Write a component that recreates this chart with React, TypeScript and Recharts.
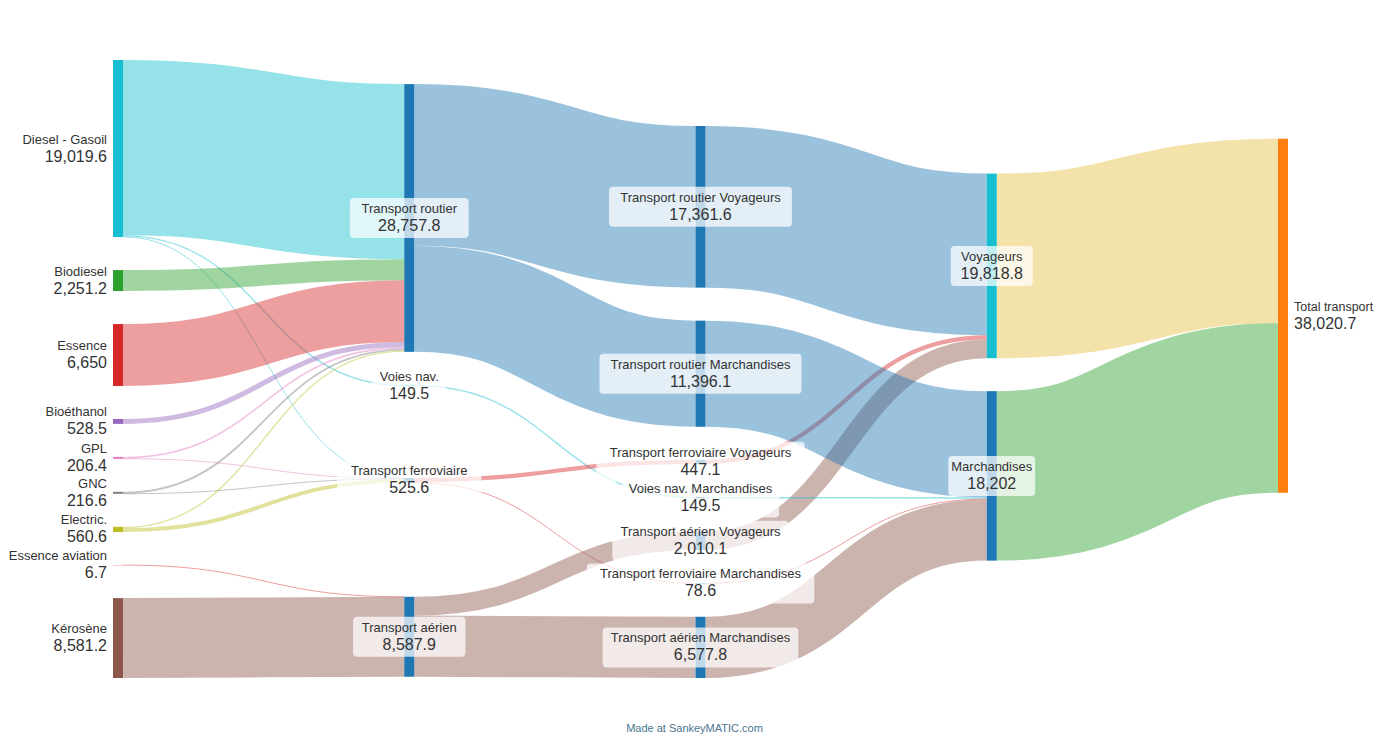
import React from 'react';
import { Sankey } from 'recharts';

// nodes, in column order (top to bottom as drawn)
const nodeNames = [
  'Diesel - Gasoil', 'Biodiesel', 'Essence', 'Bioéthanol', 'GPL', 'GNC', 'Electric.', 'Essence aviation', 'Kérosène',
  'Transport routier', 'Voies nav.', 'Transport ferroviaire', 'Transport aérien',
  'Transport routier Voyageurs', 'Transport routier Marchandises', 'Transport ferroviaire Voyageurs',
  'Voies nav. Marchandises', 'Transport aérien Voyageurs', 'Transport ferroviaire Marchandises', 'Transport aérien Marchandises',
  'Voyageurs', 'Marchandises',
  'Total transport',
];

const nodeTotals = [
  '19,019.6', '2,251.2', '6,650', '528.5', '206.4', '216.6', '560.6', '6.7', '8,581.2',
  '28,757.8', '149.5', '525.6', '8,587.9',
  '17,361.6', '11,396.1', '447.1', '149.5', '2,010.1', '78.6', '6,577.8',
  '19,818.8', '18,202',
  '38,020.7',
];

const linkSources = [0, 0, 0, 1, 2, 3, 4, 4, 5, 5, 6, 6, 7, 8, 9, 9, 10, 11, 11, 12, 12, 13, 15, 17, 14, 16, 18, 19, 20, 21];
const linkTargets = [9, 10, 11, 9, 9, 9, 9, 11, 9, 11, 9, 11, 12, 12, 13, 14, 16, 15, 18, 17, 19, 20, 20, 20, 21, 21, 21, 21, 22, 22];
const linkValues = [
  18810.1, 149.5, 60, 2251.2, 6650, 528.5, 176.4, 30, 201.6, 15, 140, 420.6, 6.7, 8581.2,
  17361.6, 11396.1, 149.5, 447.1, 78.6, 2010.1, 6577.8,
  17361.6, 447.1, 2010.1,
  11396.1, 149.5, 78.6, 6577.8,
  19818.8, 18202,
];

// colours
const nodeColors = [
  '#17becf', '#2ca02c', '#d62728', '#9467bd', '#e377c2', '#7f7f7f', '#bcbd22', '#ff9896', '#8c564b',
  '#1f77b4', '#17becf', '#1f77b4', '#1f77b4',
  '#1f77b4', '#1f77b4', '#1f77b4', '#1f77b4', '#1f77b4', '#1f77b4', '#1f77b4',
  '#17becf', '#1f77b4',
  '#ff7f0e',
];

const linkColors = [
  '#17becf', '#17becf', '#17becf', '#2ca02c', '#d62728', '#9467bd', '#e377c2', '#e377c2', '#7f7f7f', '#7f7f7f',
  '#bcbd22', '#bcbd22', '#d62728', '#8c564b',
  '#1f77b4', '#1f77b4', '#17becf', '#d62728', '#d62728', '#8c564b', '#8c564b',
  '#1f77b4', '#d62728', '#8c564b',
  '#1f77b4', '#17becf', '#d62728', '#8c564b',
  '#e5be41', '#2ca02c',
];

const data = {
  nodes: nodeNames.map((name) => ({ name })),
  links: linkSources.map((s, i) => ({ source: s, target: linkTargets[i], value: linkValues[i], idx: i })),
};

const FONT = '"Liberation Sans", Arial, sans-serif';

const LinkShape = (props: any) => {
  const { sourceX, targetX, sourceY, targetY, sourceControlX, targetControlX, linkWidth, index, payload } = props;
  const i = payload && payload.idx !== undefined ? payload.idx : index;
  return (
    <path
      d={`M${sourceX},${sourceY}C${sourceControlX},${sourceY} ${targetControlX},${targetY} ${targetX},${targetY}`}
      fill="none"
      stroke={linkColors[i] || '#999'}
      strokeWidth={Math.max(linkWidth, 1)}
      strokeOpacity={0.45}
    />
  );
};

const NodeShape = (props: any) => {
  const { x, y, width, height, payload } = props;
  const i = nodeNames.indexOf(payload.name);
  const name = nodeNames[i];
  const total = nodeTotals[i];
  const depth = payload.depth;
  const cy = y + height / 2;
  const rect = <rect x={x} y={y} width={width} height={Math.max(height, 0.5)} fill={nodeColors[i]} />;

  if (depth === 0) {
    return (
      <g>
        {rect}
        <text x={x - 6} y={cy - 5} textAnchor="end" fontSize={13} fill="#333" fontFamily={FONT}>{name}</text>
        <text x={x - 6} y={cy + 13} textAnchor="end" fontSize={16} fill="#333" fontFamily={FONT}>{total}</text>
      </g>
    );
  }
  if (depth === 4) {
    return (
      <g>
        {rect}
        <text x={x + width + 6} y={cy - 5} textAnchor="start" fontSize={12.5} fill="#333" fontFamily={FONT}>{name}</text>
        <text x={x + width + 6} y={cy + 13} textAnchor="start" fontSize={16} fill="#333" fontFamily={FONT}>{total}</text>
      </g>
    );
  }
  const cx = x + width / 2;
  const boxW = Math.max(name.length * 6.4, total.length * 9) + 10;
  return (
    <g>
      {rect}
      <rect x={cx - boxW / 2} y={cy - 20} width={boxW} height={40} rx={4} fill="#fff" fillOpacity={0.72} />
      <text x={cx} y={cy - 5} textAnchor="middle" fontSize={13} fill="#333" fontFamily={FONT}>{name}</text>
      <text x={cx} y={cy + 13} textAnchor="middle" fontSize={16} fill="#333" fontFamily={FONT}>{total}</text>
    </g>
  );
};

export default function App() {
  return (
    <div style={{ position: 'relative', width: 1373, height: 730, fontFamily: FONT }}>
      <Sankey
        width={1373}
        height={690}
        data={data}
        node={<NodeShape />}
        link={<LinkShape />}
        nodeWidth={10}
        nodePadding={33}
        iterations={1}
        sort={false}
        linkCurvature={0.5}
        margin={{ top: 52, right: 93, bottom: 20, left: 105 }}
      />
      <div
        style={{
          position: 'absolute',
          top: 714,
          left: 0,
          width: 1373,
          textAlign: 'center',
          fontSize: 11,
          color: '#4a7591',
        }}
      >
        Made at SankeyMATIC.com
      </div>
    </div>
  );
}
